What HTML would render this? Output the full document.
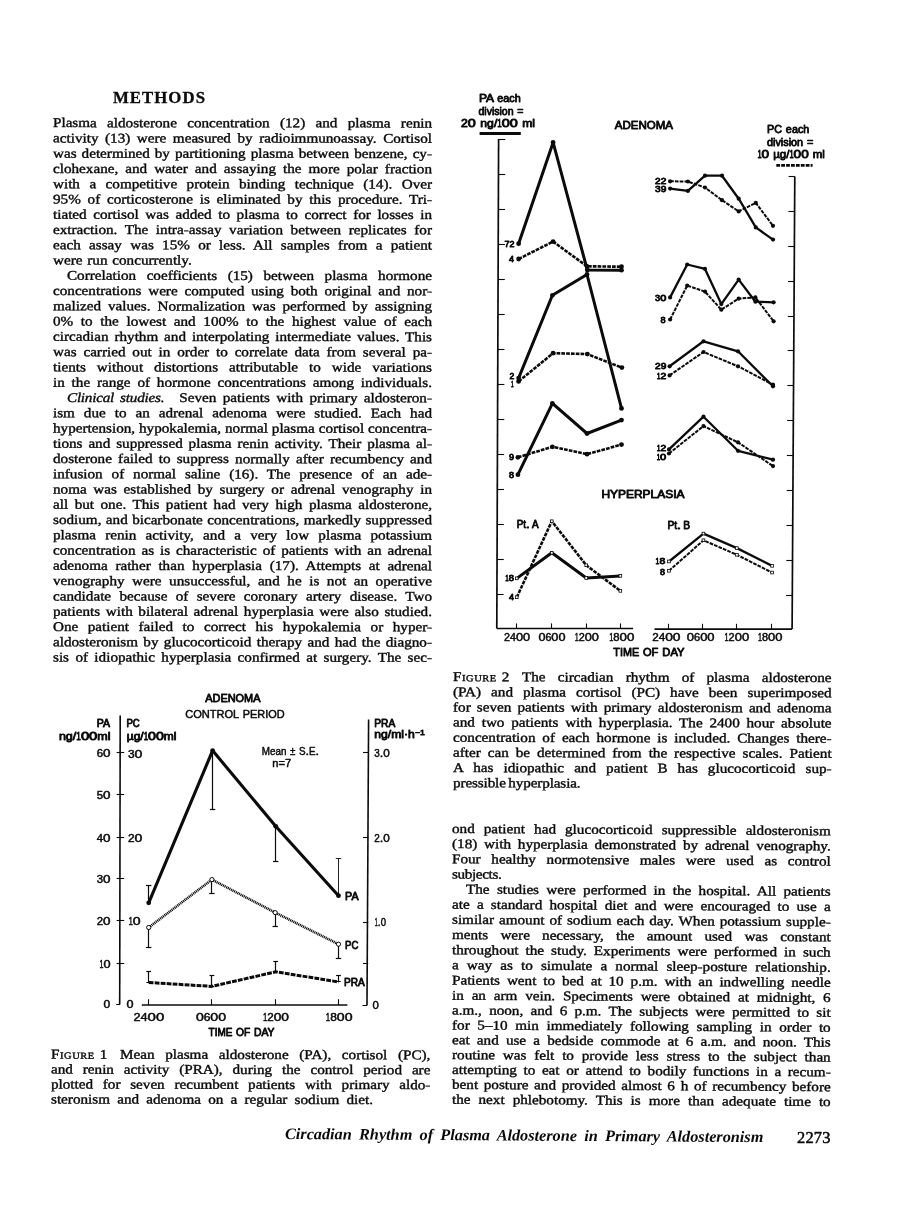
<!DOCTYPE html>
<html lang="en"><head><meta charset="utf-8"><title>Circadian Rhythm of Plasma Aldosterone in Primary Aldosteronism</title>
<style>
html,body{margin:0;padding:0;background:#fff;}
body{width:898px;height:1228px;position:relative;overflow:hidden;color:#0b0b0b;
 font-family:"Liberation Serif", serif;font-size:13.3px;}
.l,.h,.f,.pn{position:absolute;white-space:pre;transform-origin:0 75%;}
.l{line-height:16px;height:16px;-webkit-text-stroke:0.38px #0b0b0b;}
.sc{letter-spacing:0.5px;}
.sm{font-size:0.69em;}
.h{font-weight:bold;font-size:16.8px;line-height:20px;height:20px;-webkit-text-stroke:0.3px #0b0b0b;}
.f{font-weight:bold;font-style:italic;font-size:16px;line-height:18px;height:18px;}
.pn{font-size:16.4px;line-height:18px;height:18px;-webkit-text-stroke:0.5px #0b0b0b;}
svg{position:absolute;left:0;top:0;}
svg text{font-family:"Liberation Sans",sans-serif;fill:#0b0b0b;stroke:#0b0b0b;stroke-linejoin:round;}
</style></head><body>
<div class="l" style="left:53.3px;top:115px;word-spacing:5.685px;transform:translateY(0.10px) rotate(0.05deg) scaleX(1.14);">Plasma aldosterone concentration (12) and plasma renin</div>
<div class="l" style="left:53.3px;top:130px;word-spacing:2.438px;transform:translateY(0.37px) rotate(0.05deg) scaleX(1.14);">activity (13) were measured by radioimmunoassay. Cortisol</div>
<div class="l" style="left:53.3px;top:145px;word-spacing:1.076px;transform:translateY(0.63px) rotate(0.05deg) scaleX(1.14);">was determined by partitioning plasma between benzene, cy-</div>
<div class="l" style="left:53.3px;top:160px;word-spacing:2.836px;transform:translateY(0.90px) rotate(0.05deg) scaleX(1.14);">clohexane, and water and assaying the more polar fraction</div>
<div class="l" style="left:53.3px;top:176px;word-spacing:4.976px;transform:translateY(0.17px) rotate(0.05deg) scaleX(1.14);">with a competitive protein binding technique (14). Over</div>
<div class="l" style="left:53.3px;top:191px;word-spacing:2.643px;transform:translateY(0.44px) rotate(0.05deg) scaleX(1.14);">95% of corticosterone is eliminated by this procedure. Tri-</div>
<div class="l" style="left:53.3px;top:206px;word-spacing:2.449px;transform:translateY(0.70px) rotate(0.05deg) scaleX(1.14);">tiated cortisol was added to plasma to correct for losses in</div>
<div class="l" style="left:53.3px;top:221px;word-spacing:3.331px;transform:translateY(0.97px) rotate(0.05deg) scaleX(1.14);">extraction. The intra-assay variation between replicates for</div>
<div class="l" style="left:53.3px;top:237px;word-spacing:3.963px;transform:translateY(0.24px) rotate(0.05deg) scaleX(1.14);">each assay was 15% or less. All samples from a patient</div>
<div class="l" style="left:53.3px;top:252px;word-spacing:0.896px;transform:translateY(0.50px) rotate(0.05deg) scaleX(1.14);">were run concurrently.</div>
<div class="l" style="left:67.3px;top:267px;word-spacing:5.966px;transform:translateY(0.77px) rotate(0.05deg) scaleX(1.14);">Correlation coefficients (15) between plasma hormone</div>
<div class="l" style="left:53.3px;top:283px;word-spacing:2.639px;transform:translateY(0.04px) rotate(0.05deg) scaleX(1.14);">concentrations were computed using both original and nor-</div>
<div class="l" style="left:53.3px;top:298px;word-spacing:2.790px;transform:translateY(0.30px) rotate(0.05deg) scaleX(1.14);">malized values. Normalization was performed by assigning</div>
<div class="l" style="left:53.3px;top:313px;word-spacing:3.401px;transform:translateY(0.57px) rotate(0.05deg) scaleX(1.14);">0% to the lowest and 100% to the highest value of each</div>
<div class="l" style="left:53.3px;top:328px;word-spacing:1.847px;transform:translateY(0.84px) rotate(0.05deg) scaleX(1.14);">circadian rhythm and interpolating intermediate values. This</div>
<div class="l" style="left:53.3px;top:344px;word-spacing:2.677px;transform:translateY(0.11px) rotate(0.05deg) scaleX(1.14);">was carried out in order to correlate data from several pa-</div>
<div class="l" style="left:53.3px;top:359px;word-spacing:6.290px;transform:translateY(0.37px) rotate(0.05deg) scaleX(1.14);">tients without distortions attributable to wide variations</div>
<div class="l" style="left:53.3px;top:374px;word-spacing:2.654px;transform:translateY(0.64px) rotate(0.05deg) scaleX(1.14);">in the range of hormone concentrations among individuals.</div>
<div class="l" style="left:67.3px;top:389px;word-spacing:2.229px;transform:translateY(0.91px) rotate(0.05deg) scaleX(1.14);"><i style='letter-spacing:-0.2px'>Clinical studies.</i> Seven patients with primary aldosteron-</div>
<div class="l" style="left:53.3px;top:405px;word-spacing:4.530px;transform:translateY(0.17px) rotate(0.05deg) scaleX(1.14);">ism due to an adrenal adenoma were studied. Each had</div>
<div class="l" style="left:53.3px;top:420px;word-spacing:0.101px;transform:translateY(0.44px) rotate(0.05deg) scaleX(1.14);">hypertension, hypokalemia, normal plasma cortisol concentra-</div>
<div class="l" style="left:53.3px;top:435px;word-spacing:1.860px;transform:translateY(0.71px) rotate(0.05deg) scaleX(1.14);">tions and suppressed plasma renin activity. Their plasma al-</div>
<div class="l" style="left:53.3px;top:450px;word-spacing:2.079px;transform:translateY(0.97px) rotate(0.05deg) scaleX(1.14);">dosterone failed to suppress normally after recumbency and</div>
<div class="l" style="left:53.3px;top:466px;word-spacing:4.474px;transform:translateY(0.24px) rotate(0.05deg) scaleX(1.14);">infusion of normal saline (16). The presence of an ade-</div>
<div class="l" style="left:53.3px;top:481px;word-spacing:2.537px;transform:translateY(0.51px) rotate(0.05deg) scaleX(1.14);">noma was established by surgery or adrenal venography in</div>
<div class="l" style="left:53.3px;top:496px;word-spacing:2.377px;transform:translateY(0.77px) rotate(0.05deg) scaleX(1.14);">all but one. This patient had very high plasma aldosterone,</div>
<div class="l" style="left:53.3px;top:512px;word-spacing:0.541px;transform:translateY(0.04px) rotate(0.05deg) scaleX(1.14);">sodium, and bicarbonate concentrations, markedly suppressed</div>
<div class="l" style="left:53.3px;top:527px;word-spacing:4.784px;transform:translateY(0.31px) rotate(0.05deg) scaleX(1.14);">plasma renin activity, and a very low plasma potassium</div>
<div class="l" style="left:53.3px;top:542px;word-spacing:1.868px;transform:translateY(0.58px) rotate(0.05deg) scaleX(1.14);">concentration as is characteristic of patients with an adrenal</div>
<div class="l" style="left:53.3px;top:557px;word-spacing:3.398px;transform:translateY(0.84px) rotate(0.05deg) scaleX(1.14);">adenoma rather than hyperplasia (17). Attempts at adrenal</div>
<div class="l" style="left:53.3px;top:573px;word-spacing:3.293px;transform:translateY(0.11px) rotate(0.05deg) scaleX(1.14);">venography were unsuccessful, and he is not an operative</div>
<div class="l" style="left:53.3px;top:588px;word-spacing:3.992px;transform:translateY(0.38px) rotate(0.05deg) scaleX(1.14);">candidate because of severe coronary artery disease. Two</div>
<div class="l" style="left:53.3px;top:603px;word-spacing:1.603px;transform:translateY(0.64px) rotate(0.05deg) scaleX(1.14);">patients with bilateral adrenal hyperplasia were also studied.</div>
<div class="l" style="left:53.3px;top:618px;word-spacing:5.037px;transform:translateY(0.91px) rotate(0.05deg) scaleX(1.14);">One patient failed to correct his hypokalemia or hyper-</div>
<div class="l" style="left:53.3px;top:634px;word-spacing:1.335px;transform:translateY(0.18px) rotate(0.05deg) scaleX(1.14);">aldosteronism by glucocorticoid therapy and had the diagno-</div>
<div class="l" style="left:53.3px;top:649px;word-spacing:2.262px;transform:translateY(0.45px) rotate(0.05deg) scaleX(1.14);">sis of idiopathic hyperplasia confirmed at surgery. The sec-</div>
<div class="l" style="left:51.2px;top:1046px;word-spacing:6.021px;transform:translateY(0.60px) rotate(0.1deg) scaleX(1.14);"><span class="sc">F<span class="sm">IGURE</span></span> 1  Mean plasma aldosterone (PA), cortisol (PC),</div>
<div class="l" style="left:51.2px;top:1061px;word-spacing:5.367px;transform:translateY(0.55px) rotate(0.1deg) scaleX(1.14);">and renin activity (PRA), during the control period are</div>
<div class="l" style="left:51.2px;top:1076px;word-spacing:5.184px;transform:translateY(0.50px) rotate(0.1deg) scaleX(1.14);">plotted for seven recumbent patients with primary aldo-</div>
<div class="l" style="left:51.2px;top:1091px;word-spacing:3.000px;transform:translateY(0.45px) rotate(0.1deg) scaleX(1.14);">steronism and adenoma on a regular sodium diet.</div>
<div class="l" style="left:453.0px;top:669px;word-spacing:7.418px;transform:translateY(0.10px) rotate(0.15deg) scaleX(1.14);"><span class="sc">F<span class="sm">IGURE</span></span> 2  The circadian rhythm of plasma aldosterone</div>
<div class="l" style="left:453.0px;top:684px;word-spacing:5.466px;transform:translateY(0.25px) rotate(0.15deg) scaleX(1.14);">(PA) and plasma cortisol (PC) have been superimposed</div>
<div class="l" style="left:453.0px;top:699px;word-spacing:2.024px;transform:translateY(0.40px) rotate(0.15deg) scaleX(1.14);">for seven patients with primary aldosteronism and adenoma</div>
<div class="l" style="left:453.0px;top:714px;word-spacing:2.630px;transform:translateY(0.55px) rotate(0.15deg) scaleX(1.14);">and two patients with hyperplasia. The 2400 hour absolute</div>
<div class="l" style="left:453.0px;top:729px;word-spacing:2.714px;transform:translateY(0.70px) rotate(0.15deg) scaleX(1.14);">concentration of each hormone is included. Changes there-</div>
<div class="l" style="left:453.0px;top:744px;word-spacing:2.794px;transform:translateY(0.85px) rotate(0.15deg) scaleX(1.14);">after can be determined from the respective scales. Patient</div>
<div class="l" style="left:453.0px;top:760px;word-spacing:5.507px;transform:rotate(0.15deg) scaleX(1.14);">A has idiopathic and patient B has glucocorticoid sup-</div>
<div class="l" style="left:453.0px;top:775px;word-spacing:-1.000px;letter-spacing:-0.108px;transform:translateY(0.15px) rotate(0.15deg) scaleX(1.14);">pressible hyperplasia.</div>
<div class="l" style="left:452.2px;top:820px;word-spacing:4.620px;transform:translateY(0.90px) rotate(0.36deg) scaleX(1.14);">ond patient had glucocorticoid suppressible aldosteronism</div>
<div class="l" style="left:452.2px;top:836px;word-spacing:2.644px;transform:translateY(0.06px) rotate(0.36deg) scaleX(1.14);">(18) with hyperplasia demonstrated by adrenal venography.</div>
<div class="l" style="left:452.2px;top:851px;word-spacing:6.045px;transform:translateY(0.22px) rotate(0.36deg) scaleX(1.14);">Four healthy normotensive males were used as control</div>
<div class="l" style="left:452.2px;top:866px;letter-spacing:-0.311px;transform:translateY(0.38px) rotate(0.36deg) scaleX(1.14);">subjects.</div>
<div class="l" style="left:466.2px;top:881px;word-spacing:3.108px;transform:translateY(0.54px) rotate(0.36deg) scaleX(1.14);">The studies were performed in the hospital. All patients</div>
<div class="l" style="left:452.2px;top:896px;word-spacing:3.018px;transform:translateY(0.70px) rotate(0.36deg) scaleX(1.14);">ate a standard hospital diet and were encouraged to use a</div>
<div class="l" style="left:452.2px;top:911px;word-spacing:0.993px;transform:translateY(0.86px) rotate(0.36deg) scaleX(1.14);">similar amount of sodium each day. When potassium supple-</div>
<div class="l" style="left:452.2px;top:927px;word-spacing:7.382px;transform:translateY(0.02px) rotate(0.36deg) scaleX(1.14);">ments were necessary, the amount used was constant</div>
<div class="l" style="left:452.2px;top:942px;word-spacing:2.845px;transform:translateY(0.18px) rotate(0.36deg) scaleX(1.14);">throughout the study. Experiments were performed in such</div>
<div class="l" style="left:452.2px;top:957px;word-spacing:3.813px;transform:translateY(0.34px) rotate(0.36deg) scaleX(1.14);">a way as to simulate a normal sleep-posture relationship.</div>
<div class="l" style="left:452.2px;top:972px;word-spacing:2.716px;transform:translateY(0.50px) rotate(0.36deg) scaleX(1.14);">Patients went to bed at 10 p.m. with an indwelling needle</div>
<div class="l" style="left:452.2px;top:987px;word-spacing:3.553px;transform:translateY(0.66px) rotate(0.36deg) scaleX(1.14);">in an arm vein. Speciments were obtained at midnight, 6</div>
<div class="l" style="left:452.2px;top:1002px;word-spacing:3.035px;transform:translateY(0.52px) rotate(0.36deg) scaleX(1.14);">a.m., noon, and 6 p.m. The subjects were permitted to sit</div>
<div class="l" style="left:452.2px;top:1017px;word-spacing:3.393px;transform:translateY(0.38px) rotate(0.36deg) scaleX(1.14);">for 5–10 min immediately following sampling in order to</div>
<div class="l" style="left:452.2px;top:1032px;word-spacing:2.962px;transform:translateY(0.24px) rotate(0.36deg) scaleX(1.14);">eat and use a bedside commode at 6 a.m. and noon. This</div>
<div class="l" style="left:452.2px;top:1047px;word-spacing:3.529px;transform:translateY(0.10px) rotate(0.36deg) scaleX(1.14);">routine was felt to provide less stress to the subject than</div>
<div class="l" style="left:452.2px;top:1061px;word-spacing:2.496px;transform:translateY(0.96px) rotate(0.36deg) scaleX(1.14);">attempting to eat or attend to bodily functions in a recum-</div>
<div class="l" style="left:452.2px;top:1076px;word-spacing:1.667px;transform:translateY(0.82px) rotate(0.36deg) scaleX(1.14);">bent posture and provided almost 6 h of recumbency before</div>
<div class="l" style="left:452.2px;top:1091px;word-spacing:3.716px;transform:translateY(0.68px) rotate(0.36deg) scaleX(1.14);">the next phlebotomy. This is more than adequate time to</div>
<div class="h" style="left:112.9px;top:88px;letter-spacing:1.051px;">METHODS</div>
<div class="f" style="left:285.0px;top:1125px;word-spacing:3.163px;transform:rotate(0.38deg) scaleX(1.015);">Circadian Rhythm of Plasma Aldosterone in Primary Aldosteronism</div>
<div class="pn" style="left:797.0px;top:1129px;letter-spacing:0.206px;transform:translateY(0.30px);">2273</div>
<svg width="898" height="1228" viewBox="0 0 898 1228">
<text y="701.8" font-size="10.4" stroke-width="0.78"><tspan x="205.20" textLength="55.30" lengthAdjust="spacingAndGlyphs">ADENOMA</tspan></text>
<text y="717.9" font-size="10.2" stroke-width="0.45"><tspan x="185.20" textLength="53.66" lengthAdjust="spacingAndGlyphs">CONTROL</tspan> <tspan x="242.76" textLength="41.84" lengthAdjust="spacingAndGlyphs">PERIOD</tspan></text>
<line x1="120.2" y1="715.6" x2="119.7" y2="1004.4" stroke="#0b0b0b" stroke-width="1.6"/>
<line x1="116.6" y1="752.5" x2="124.2" y2="752.5" stroke="#0b0b0b" stroke-width="1.1"/>
<text y="757.3" font-size="10" stroke-width="0.45"><tspan x="96.80" textLength="6.33" lengthAdjust="spacingAndGlyphs">6</tspan><tspan x="103.13" textLength="7.47" lengthAdjust="spacingAndGlyphs">0</tspan></text>
<line x1="116.6" y1="794.5" x2="124.2" y2="794.5" stroke="#0b0b0b" stroke-width="1.1"/>
<text y="798.5" font-size="10" stroke-width="0.45"><tspan x="96.80" textLength="6.33" lengthAdjust="spacingAndGlyphs">5</tspan><tspan x="103.13" textLength="7.47" lengthAdjust="spacingAndGlyphs">0</tspan></text>
<line x1="116.6" y1="837.5" x2="124.2" y2="837.5" stroke="#0b0b0b" stroke-width="1.1"/>
<text y="841.7" font-size="10" stroke-width="0.45"><tspan x="96.80" textLength="6.33" lengthAdjust="spacingAndGlyphs">4</tspan><tspan x="103.13" textLength="7.47" lengthAdjust="spacingAndGlyphs">0</tspan></text>
<line x1="116.6" y1="878.5" x2="124.2" y2="878.5" stroke="#0b0b0b" stroke-width="1.1"/>
<text y="883.3" font-size="10" stroke-width="0.45"><tspan x="96.80" textLength="6.33" lengthAdjust="spacingAndGlyphs">3</tspan><tspan x="103.13" textLength="7.47" lengthAdjust="spacingAndGlyphs">0</tspan></text>
<line x1="116.6" y1="920.5" x2="124.2" y2="920.5" stroke="#0b0b0b" stroke-width="1.1"/>
<text y="925.3" font-size="10" stroke-width="0.45"><tspan x="96.80" textLength="6.33" lengthAdjust="spacingAndGlyphs">2</tspan><tspan x="103.13" textLength="7.47" lengthAdjust="spacingAndGlyphs">0</tspan></text>
<line x1="116.6" y1="963.5" x2="124.2" y2="963.5" stroke="#0b0b0b" stroke-width="1.1"/>
<text y="967.7" font-size="10" stroke-width="0.45"><tspan x="99.60" textLength="3.95" lengthAdjust="spacingAndGlyphs">1</tspan><tspan x="103.55" textLength="7.05" lengthAdjust="spacingAndGlyphs">0</tspan></text>
<line x1="116.2" y1="1004.5" x2="120.0" y2="1004.5" stroke="#0b0b0b" stroke-width="1.1"/>
<text y="757.6" font-size="10" stroke-width="0.45"><tspan x="128.00" textLength="6.61" lengthAdjust="spacingAndGlyphs">3</tspan><tspan x="134.61" textLength="7.79" lengthAdjust="spacingAndGlyphs">0</tspan></text>
<text y="842.0" font-size="10" stroke-width="0.45"><tspan x="128.00" textLength="6.61" lengthAdjust="spacingAndGlyphs">2</tspan><tspan x="134.61" textLength="7.79" lengthAdjust="spacingAndGlyphs">0</tspan></text>
<text y="925.4" font-size="10" stroke-width="0.45"><tspan x="128.40" textLength="4.38" lengthAdjust="spacingAndGlyphs">1</tspan><tspan x="132.78" textLength="7.82" lengthAdjust="spacingAndGlyphs">0</tspan></text>
<text y="1008.4" font-size="10" stroke-width="0.45"><tspan x="103.50" textLength="6.70" lengthAdjust="spacingAndGlyphs">0</tspan></text>
<text y="1008.4" font-size="10" stroke-width="0.45"><tspan x="126.40" textLength="7.00" lengthAdjust="spacingAndGlyphs">0</tspan></text>
<text y="727.2" font-size="10" stroke-width="0.78"><tspan x="96.80" textLength="13.30" lengthAdjust="spacingAndGlyphs">PA</tspan></text>
<text y="739.7" font-size="10" stroke-width="0.78"><tspan x="58.90" textLength="17.42" lengthAdjust="spacingAndGlyphs">ng/</tspan><tspan x="76.32" textLength="4.60" lengthAdjust="spacingAndGlyphs">1</tspan><tspan x="80.92" textLength="16.45" lengthAdjust="spacingAndGlyphs">00</tspan><tspan x="97.37" textLength="13.23" lengthAdjust="spacingAndGlyphs">ml</tspan></text>
<text y="727.2" font-size="10" stroke-width="0.78"><tspan x="126.40" textLength="13.40" lengthAdjust="spacingAndGlyphs">PC</tspan></text>
<text y="739.7" font-size="10" stroke-width="0.78"><tspan x="126.80" textLength="16.91" lengthAdjust="spacingAndGlyphs">µg/</tspan><tspan x="143.71" textLength="4.40" lengthAdjust="spacingAndGlyphs">1</tspan><tspan x="148.11" textLength="15.74" lengthAdjust="spacingAndGlyphs">00</tspan><tspan x="163.85" textLength="12.65" lengthAdjust="spacingAndGlyphs">ml</tspan></text>
<line x1="368.6" y1="719.6" x2="367.0" y2="1005.3" stroke="#0b0b0b" stroke-width="1.6"/>
<line x1="363.0" y1="752.5" x2="368.2" y2="752.5" stroke="#0b0b0b" stroke-width="1.1"/>
<line x1="363.0" y1="837.5" x2="368.2" y2="837.5" stroke="#0b0b0b" stroke-width="1.1"/>
<line x1="363.0" y1="922.5" x2="368.2" y2="922.5" stroke="#0b0b0b" stroke-width="1.1"/>
<line x1="363.0" y1="963.5" x2="368.2" y2="963.5" stroke="#0b0b0b" stroke-width="1.1"/>
<line x1="362.4" y1="1005.5" x2="367.2" y2="1005.5" stroke="#0b0b0b" stroke-width="1.1"/>
<text y="727.2" font-size="10" stroke-width="0.78"><tspan x="374.30" textLength="21.00" lengthAdjust="spacingAndGlyphs">PRA</tspan></text>
<text y="738.2" font-size="10" stroke-width="0.78"><tspan x="374.30" textLength="40.60" lengthAdjust="spacingAndGlyphs">ng/ml·h</tspan><tspan x="414.90" dy="-3.2" font-size="7.2" textLength="10.00" lengthAdjust="spacingAndGlyphs">−1</tspan></text>
<text y="757.0" font-size="10" stroke-width="0.45"><tspan x="374.30" textLength="5.51" lengthAdjust="spacingAndGlyphs">3</tspan><tspan x="379.81" textLength="3.58" lengthAdjust="spacingAndGlyphs">.</tspan><tspan x="383.39" textLength="6.51" lengthAdjust="spacingAndGlyphs">0</tspan></text>
<text y="841.9" font-size="10" stroke-width="0.45"><tspan x="374.30" textLength="5.51" lengthAdjust="spacingAndGlyphs">2</tspan><tspan x="379.81" textLength="3.58" lengthAdjust="spacingAndGlyphs">.</tspan><tspan x="383.39" textLength="6.51" lengthAdjust="spacingAndGlyphs">0</tspan></text>
<text y="925.7" font-size="10" stroke-width="0.45"><tspan x="374.80" textLength="2.97" lengthAdjust="spacingAndGlyphs">1</tspan><tspan x="377.77" textLength="2.92" lengthAdjust="spacingAndGlyphs">.</tspan><tspan x="380.69" textLength="5.31" lengthAdjust="spacingAndGlyphs">0</tspan></text>
<text y="1008.6" font-size="10" stroke-width="0.45"><tspan x="372.50" textLength="6.30" lengthAdjust="spacingAndGlyphs">0</tspan></text>
<text y="755.3" font-size="10" stroke-width="0.45"><tspan x="261.80" textLength="24.59" lengthAdjust="spacingAndGlyphs">Mean</tspan> <tspan x="289.94" textLength="5.40" lengthAdjust="spacingAndGlyphs">±</tspan> <tspan x="298.89" textLength="6.56" lengthAdjust="spacingAndGlyphs">S</tspan><tspan x="305.44" textLength="3.55" lengthAdjust="spacingAndGlyphs">.</tspan><tspan x="308.99" textLength="6.56" lengthAdjust="spacingAndGlyphs">E</tspan><tspan x="315.55" textLength="3.55" lengthAdjust="spacingAndGlyphs">.</tspan></text>
<text y="766.9" font-size="10" stroke-width="0.45"><tspan x="272.30" textLength="18.90" lengthAdjust="spacingAndGlyphs">n=7</tspan></text>
<line x1="141.8" y1="1005.0" x2="347.4" y2="1005.0" stroke="#0b0b0b" stroke-width="1.3"/>
<line x1="148.5" y1="999.2" x2="148.5" y2="1005.0" stroke="#0b0b0b" stroke-width="1.1"/>
<line x1="211.5" y1="999.2" x2="211.5" y2="1005.0" stroke="#0b0b0b" stroke-width="1.1"/>
<line x1="275.5" y1="999.2" x2="275.5" y2="1005.0" stroke="#0b0b0b" stroke-width="1.1"/>
<line x1="338.5" y1="999.2" x2="338.5" y2="1005.0" stroke="#0b0b0b" stroke-width="1.1"/>
<text y="1020.7" font-size="10" stroke-width="0.45"><tspan x="133.50" textLength="14.13" lengthAdjust="spacingAndGlyphs">24</tspan><tspan x="147.63" textLength="16.67" lengthAdjust="spacingAndGlyphs">00</tspan></text>
<text y="1020.7" font-size="10" stroke-width="0.45"><tspan x="195.90" textLength="7.82" lengthAdjust="spacingAndGlyphs">0</tspan><tspan x="203.72" textLength="6.63" lengthAdjust="spacingAndGlyphs">6</tspan><tspan x="210.35" textLength="15.65" lengthAdjust="spacingAndGlyphs">00</tspan></text>
<text y="1021.0" font-size="10" stroke-width="0.45"><tspan x="263.00" textLength="4.27" lengthAdjust="spacingAndGlyphs">1</tspan><tspan x="267.27" textLength="6.47" lengthAdjust="spacingAndGlyphs">2</tspan><tspan x="273.74" textLength="15.26" lengthAdjust="spacingAndGlyphs">00</tspan></text>
<text y="1021.2" font-size="10" stroke-width="0.45"><tspan x="325.80" textLength="4.38" lengthAdjust="spacingAndGlyphs">1</tspan><tspan x="330.18" textLength="6.64" lengthAdjust="spacingAndGlyphs">8</tspan><tspan x="336.83" textLength="15.67" lengthAdjust="spacingAndGlyphs">00</tspan></text>
<text y="1035.5" font-size="10" stroke-width="0.78"><tspan x="208.60" textLength="23.87" lengthAdjust="spacingAndGlyphs">TIME</tspan> <tspan x="236.08" textLength="14.27" lengthAdjust="spacingAndGlyphs">OF</tspan> <tspan x="253.95" textLength="20.55" lengthAdjust="spacingAndGlyphs">DAY</tspan></text>
<line x1="148.5" y1="902.8" x2="148.5" y2="885.7" stroke="#0b0b0b" stroke-width="1.2"/>
<line x1="146.0" y1="885.5" x2="151.4" y2="885.5" stroke="#0b0b0b" stroke-width="1.2"/>
<line x1="212.5" y1="750.6" x2="212.5" y2="809.6" stroke="#0b0b0b" stroke-width="1.2"/>
<line x1="209.9" y1="809.5" x2="215.3" y2="809.5" stroke="#0b0b0b" stroke-width="1.2"/>
<line x1="275.5" y1="826.3" x2="275.5" y2="861.2" stroke="#0b0b0b" stroke-width="1.2"/>
<line x1="273.0" y1="861.5" x2="278.4" y2="861.5" stroke="#0b0b0b" stroke-width="1.2"/>
<line x1="338.5" y1="895.7" x2="338.5" y2="858.5" stroke="#0b0b0b" stroke-width="0.9"/>
<line x1="335.8" y1="858.5" x2="341.2" y2="858.5" stroke="#0b0b0b" stroke-width="0.9"/>
<line x1="148.5" y1="927.5" x2="148.5" y2="947.1" stroke="#0b0b0b" stroke-width="1.2"/>
<line x1="146.0" y1="947.5" x2="151.4" y2="947.5" stroke="#0b0b0b" stroke-width="1.2"/>
<line x1="211.5" y1="879.6" x2="211.5" y2="893.5" stroke="#0b0b0b" stroke-width="1.2"/>
<line x1="209.2" y1="893.5" x2="214.6" y2="893.5" stroke="#0b0b0b" stroke-width="1.2"/>
<line x1="275.5" y1="912.6" x2="275.5" y2="926.9" stroke="#0b0b0b" stroke-width="1.2"/>
<line x1="272.5" y1="926.5" x2="277.9" y2="926.5" stroke="#0b0b0b" stroke-width="1.2"/>
<line x1="338.5" y1="944.2" x2="338.5" y2="958.0" stroke="#0b0b0b" stroke-width="1.2"/>
<line x1="335.8" y1="958.5" x2="341.2" y2="958.5" stroke="#0b0b0b" stroke-width="1.2"/>
<line x1="148.5" y1="982.5" x2="148.5" y2="971.8" stroke="#0b0b0b" stroke-width="1.2"/>
<line x1="146.3" y1="971.5" x2="151.1" y2="971.5" stroke="#0b0b0b" stroke-width="1.2"/>
<line x1="146.5" y1="982.5" x2="150.9" y2="982.5" stroke="#0b0b0b" stroke-width="1.0"/>
<line x1="211.5" y1="986.4" x2="211.5" y2="975.0" stroke="#0b0b0b" stroke-width="1.2"/>
<line x1="209.5" y1="975.5" x2="214.3" y2="975.5" stroke="#0b0b0b" stroke-width="1.2"/>
<line x1="209.7" y1="986.5" x2="214.1" y2="986.5" stroke="#0b0b0b" stroke-width="1.0"/>
<line x1="275.5" y1="971.8" x2="275.5" y2="961.4" stroke="#0b0b0b" stroke-width="1.2"/>
<line x1="273.3" y1="961.5" x2="278.1" y2="961.5" stroke="#0b0b0b" stroke-width="1.2"/>
<line x1="273.5" y1="971.5" x2="277.9" y2="971.5" stroke="#0b0b0b" stroke-width="1.0"/>
<line x1="338.5" y1="981.9" x2="338.5" y2="975.2" stroke="#0b0b0b" stroke-width="1.2"/>
<line x1="336.1" y1="975.5" x2="340.9" y2="975.5" stroke="#0b0b0b" stroke-width="1.2"/>
<line x1="336.3" y1="981.5" x2="340.7" y2="981.5" stroke="#0b0b0b" stroke-width="1.0"/>
<polyline points="148.7,902.8 212.6,750.6 275.7,826.3 338.5,895.7" fill="none" stroke="#0b0b0b" stroke-width="3.1" stroke-linejoin="round"/>
<circle cx="148.7" cy="902.8" r="2.4" fill="#0b0b0b"/>
<circle cx="212.6" cy="750.6" r="2.4" fill="#0b0b0b"/>
<circle cx="275.7" cy="826.3" r="2.4" fill="#0b0b0b"/>
<circle cx="338.5" cy="895.7" r="2.4" fill="#0b0b0b"/>
<polyline points="148.7,927.5 211.9,879.6 275.2,912.6 338.5,944.2" fill="none" stroke="#0b0b0b" stroke-width="2.6" stroke-linejoin="round" stroke-dasharray="1.1 0.7"/>
<circle cx="148.7" cy="927.5" r="2.1" fill="#fff" stroke="#0b0b0b" stroke-width="1.0"/>
<circle cx="211.9" cy="879.6" r="2.1" fill="#fff" stroke="#0b0b0b" stroke-width="1.0"/>
<circle cx="275.2" cy="912.6" r="2.1" fill="#fff" stroke="#0b0b0b" stroke-width="1.0"/>
<circle cx="338.5" cy="944.2" r="2.1" fill="#fff" stroke="#0b0b0b" stroke-width="1.0"/>
<polyline points="148.7,982.5 211.9,986.4 275.7,971.8 338.5,981.9" fill="none" stroke="#0b0b0b" stroke-width="3.0" stroke-linejoin="round" stroke-dasharray="4.8 1.2"/>
<text y="900.1" font-size="10" stroke-width="0.78"><tspan x="345.10" textLength="13.40" lengthAdjust="spacingAndGlyphs">PA</tspan></text>
<text y="949.1" font-size="10" stroke-width="0.78"><tspan x="345.10" textLength="13.40" lengthAdjust="spacingAndGlyphs">PC</tspan></text>
<text y="985.9" font-size="10" stroke-width="0.78"><tspan x="344.00" textLength="20.70" lengthAdjust="spacingAndGlyphs">PRA</tspan></text>
<text y="102.3" font-size="10" stroke-width="0.78"><tspan x="479.00" textLength="14.43" lengthAdjust="spacingAndGlyphs">PA</tspan> <tspan x="497.34" textLength="23.46" lengthAdjust="spacingAndGlyphs">each</tspan></text>
<text y="115.0" font-size="10" stroke-width="0.78"><tspan x="478.50" textLength="35.06" lengthAdjust="spacingAndGlyphs">division</tspan> <tspan x="517.36" textLength="6.14" lengthAdjust="spacingAndGlyphs">=</tspan></text>
<text y="127.2" font-size="10" stroke-width="0.78"><tspan x="461.10" textLength="6.79" lengthAdjust="spacingAndGlyphs">2</tspan><tspan x="467.89" textLength="8.01" lengthAdjust="spacingAndGlyphs">0</tspan> <tspan x="480.32" textLength="16.98" lengthAdjust="spacingAndGlyphs">ng/</tspan><tspan x="497.29" textLength="4.48" lengthAdjust="spacingAndGlyphs">1</tspan><tspan x="501.78" textLength="16.03" lengthAdjust="spacingAndGlyphs">00</tspan> <tspan x="522.21" textLength="12.89" lengthAdjust="spacingAndGlyphs">ml</tspan></text>
<line x1="479.6" y1="133.5" x2="520.8" y2="133.5" stroke="#0b0b0b" stroke-width="2.8"/>
<text y="129.0" font-size="10.4" stroke-width="0.78"><tspan x="614.80" textLength="58.20" lengthAdjust="spacingAndGlyphs">ADENOMA</tspan></text>
<text y="133.4" font-size="10" stroke-width="0.78"><tspan x="767.00" textLength="14.99" lengthAdjust="spacingAndGlyphs">PC</tspan> <tspan x="785.89" textLength="23.41" lengthAdjust="spacingAndGlyphs">each</tspan></text>
<text y="145.7" font-size="10" stroke-width="0.78"><tspan x="767.00" textLength="36.08" lengthAdjust="spacingAndGlyphs">division</tspan> <tspan x="806.98" textLength="6.32" lengthAdjust="spacingAndGlyphs">=</tspan></text>
<text y="158.4" font-size="10" stroke-width="0.78"><tspan x="757.40" textLength="4.21" lengthAdjust="spacingAndGlyphs">1</tspan><tspan x="761.61" textLength="7.52" lengthAdjust="spacingAndGlyphs">0</tspan> <tspan x="773.26" textLength="16.16" lengthAdjust="spacingAndGlyphs">µg/</tspan><tspan x="789.42" textLength="4.21" lengthAdjust="spacingAndGlyphs">1</tspan><tspan x="793.63" textLength="15.04" lengthAdjust="spacingAndGlyphs">00</tspan> <tspan x="812.81" textLength="12.09" lengthAdjust="spacingAndGlyphs">ml</tspan></text>
<line x1="776.3" y1="165.3" x2="812.6" y2="165.3" stroke="#0b0b0b" stroke-width="2.8" stroke-dasharray="3.8 1.1"/>
<line x1="498.6" y1="139.0" x2="496.8" y2="628.5" stroke="#0b0b0b" stroke-width="1.7"/>
<line x1="498.6" y1="139.5" x2="505.3" y2="139.5" stroke="#0b0b0b" stroke-width="1.1"/>
<line x1="498.5" y1="174.5" x2="505.2" y2="174.5" stroke="#0b0b0b" stroke-width="1.1"/>
<line x1="498.3" y1="209.5" x2="505.0" y2="209.5" stroke="#0b0b0b" stroke-width="1.1"/>
<line x1="498.2" y1="244.5" x2="504.9" y2="244.5" stroke="#0b0b0b" stroke-width="1.1"/>
<line x1="498.1" y1="279.5" x2="504.8" y2="279.5" stroke="#0b0b0b" stroke-width="1.1"/>
<line x1="498.0" y1="314.5" x2="504.7" y2="314.5" stroke="#0b0b0b" stroke-width="1.1"/>
<line x1="497.8" y1="349.5" x2="504.5" y2="349.5" stroke="#0b0b0b" stroke-width="1.1"/>
<line x1="497.7" y1="384.5" x2="504.4" y2="384.5" stroke="#0b0b0b" stroke-width="1.1"/>
<line x1="497.6" y1="419.5" x2="504.3" y2="419.5" stroke="#0b0b0b" stroke-width="1.1"/>
<line x1="497.4" y1="454.5" x2="504.1" y2="454.5" stroke="#0b0b0b" stroke-width="1.1"/>
<line x1="497.3" y1="489.5" x2="504.0" y2="489.5" stroke="#0b0b0b" stroke-width="1.1"/>
<line x1="497.2" y1="524.5" x2="503.9" y2="524.5" stroke="#0b0b0b" stroke-width="1.1"/>
<line x1="497.1" y1="559.5" x2="503.8" y2="559.5" stroke="#0b0b0b" stroke-width="1.1"/>
<line x1="496.9" y1="594.5" x2="503.6" y2="594.5" stroke="#0b0b0b" stroke-width="1.1"/>
<line x1="496.8" y1="628.5" x2="633.1" y2="628.5" stroke="#0b0b0b" stroke-width="1.6"/>
<line x1="516.5" y1="623.4" x2="516.5" y2="628.5" stroke="#0b0b0b" stroke-width="1.1"/>
<line x1="551.5" y1="623.4" x2="551.5" y2="628.5" stroke="#0b0b0b" stroke-width="1.1"/>
<line x1="586.5" y1="623.4" x2="586.5" y2="628.5" stroke="#0b0b0b" stroke-width="1.1"/>
<line x1="620.5" y1="623.4" x2="620.5" y2="628.5" stroke="#0b0b0b" stroke-width="1.1"/>
<line x1="794.8" y1="176.4" x2="792.1" y2="629.1" stroke="#0b0b0b" stroke-width="1.7"/>
<line x1="788.6" y1="176.5" x2="794.8" y2="176.5" stroke="#0b0b0b" stroke-width="1.1"/>
<line x1="788.4" y1="211.5" x2="794.6" y2="211.5" stroke="#0b0b0b" stroke-width="1.1"/>
<line x1="788.2" y1="246.5" x2="794.4" y2="246.5" stroke="#0b0b0b" stroke-width="1.1"/>
<line x1="788.0" y1="281.5" x2="794.2" y2="281.5" stroke="#0b0b0b" stroke-width="1.1"/>
<line x1="787.8" y1="316.5" x2="794.0" y2="316.5" stroke="#0b0b0b" stroke-width="1.1"/>
<line x1="787.6" y1="350.5" x2="793.8" y2="350.5" stroke="#0b0b0b" stroke-width="1.1"/>
<line x1="787.4" y1="385.5" x2="793.6" y2="385.5" stroke="#0b0b0b" stroke-width="1.1"/>
<line x1="787.1" y1="420.5" x2="793.3" y2="420.5" stroke="#0b0b0b" stroke-width="1.1"/>
<line x1="786.9" y1="455.5" x2="793.1" y2="455.5" stroke="#0b0b0b" stroke-width="1.1"/>
<line x1="786.7" y1="490.5" x2="792.9" y2="490.5" stroke="#0b0b0b" stroke-width="1.1"/>
<line x1="786.5" y1="525.5" x2="792.7" y2="525.5" stroke="#0b0b0b" stroke-width="1.1"/>
<line x1="786.3" y1="560.5" x2="792.5" y2="560.5" stroke="#0b0b0b" stroke-width="1.1"/>
<line x1="786.1" y1="595.5" x2="792.3" y2="595.5" stroke="#0b0b0b" stroke-width="1.1"/>
<line x1="654.5" y1="629.1" x2="792.1" y2="629.1" stroke="#0b0b0b" stroke-width="1.6"/>
<line x1="668.5" y1="623.8" x2="668.5" y2="629.1" stroke="#0b0b0b" stroke-width="1.1"/>
<line x1="702.5" y1="623.8" x2="702.5" y2="629.1" stroke="#0b0b0b" stroke-width="1.1"/>
<line x1="736.5" y1="623.8" x2="736.5" y2="629.1" stroke="#0b0b0b" stroke-width="1.1"/>
<line x1="771.5" y1="623.8" x2="771.5" y2="629.1" stroke="#0b0b0b" stroke-width="1.1"/>
<text y="641.0" font-size="10" stroke-width="0.45"><tspan x="504.10" textLength="11.97" lengthAdjust="spacingAndGlyphs">24</tspan><tspan x="516.07" textLength="14.13" lengthAdjust="spacingAndGlyphs">00</tspan></text>
<text y="641.0" font-size="10" stroke-width="0.45"><tspan x="538.40" textLength="7.02" lengthAdjust="spacingAndGlyphs">0</tspan><tspan x="545.42" textLength="5.95" lengthAdjust="spacingAndGlyphs">6</tspan><tspan x="551.36" textLength="14.04" lengthAdjust="spacingAndGlyphs">00</tspan></text>
<text y="641.0" font-size="10" stroke-width="0.45"><tspan x="574.70" textLength="3.96" lengthAdjust="spacingAndGlyphs">1</tspan><tspan x="578.66" textLength="6.00" lengthAdjust="spacingAndGlyphs">2</tspan><tspan x="584.65" textLength="14.15" lengthAdjust="spacingAndGlyphs">00</tspan></text>
<text y="641.0" font-size="10" stroke-width="0.45"><tspan x="609.20" textLength="4.14" lengthAdjust="spacingAndGlyphs">1</tspan><tspan x="613.34" textLength="6.27" lengthAdjust="spacingAndGlyphs">8</tspan><tspan x="619.61" textLength="14.79" lengthAdjust="spacingAndGlyphs">00</tspan></text>
<text y="641.4" font-size="10" stroke-width="0.45"><tspan x="652.20" textLength="12.98" lengthAdjust="spacingAndGlyphs">24</tspan><tspan x="665.18" textLength="15.32" lengthAdjust="spacingAndGlyphs">00</tspan></text>
<text y="641.4" font-size="10" stroke-width="0.45"><tspan x="686.80" textLength="7.23" lengthAdjust="spacingAndGlyphs">0</tspan><tspan x="694.03" textLength="6.12" lengthAdjust="spacingAndGlyphs">6</tspan><tspan x="700.15" textLength="14.45" lengthAdjust="spacingAndGlyphs">00</tspan></text>
<text y="641.4" font-size="10" stroke-width="0.45"><tspan x="724.60" textLength="4.02" lengthAdjust="spacingAndGlyphs">1</tspan><tspan x="728.62" textLength="6.09" lengthAdjust="spacingAndGlyphs">2</tspan><tspan x="734.72" textLength="14.38" lengthAdjust="spacingAndGlyphs">00</tspan></text>
<text y="641.4" font-size="10" stroke-width="0.45"><tspan x="758.00" textLength="4.02" lengthAdjust="spacingAndGlyphs">1</tspan><tspan x="762.02" textLength="6.09" lengthAdjust="spacingAndGlyphs">8</tspan><tspan x="768.12" textLength="14.38" lengthAdjust="spacingAndGlyphs">00</tspan></text>
<text y="655.9" font-size="10" stroke-width="0.78"><tspan x="613.30" textLength="25.79" lengthAdjust="spacingAndGlyphs">TIME</tspan> <tspan x="642.99" textLength="15.41" lengthAdjust="spacingAndGlyphs">OF</tspan> <tspan x="662.30" textLength="22.20" lengthAdjust="spacingAndGlyphs">DAY</tspan></text>
<text y="497.7" font-size="10.2" stroke-width="0.78"><tspan x="601.40" textLength="83.10" lengthAdjust="spacingAndGlyphs">HYPERPLASIA</tspan></text>
<text y="527.7" font-size="10" stroke-width="0.78"><tspan x="516.80" textLength="9.32" lengthAdjust="spacingAndGlyphs">Pt</tspan><tspan x="526.12" textLength="3.70" lengthAdjust="spacingAndGlyphs">.</tspan> <tspan x="532.02" textLength="6.58" lengthAdjust="spacingAndGlyphs">A</tspan></text>
<text y="528.5" font-size="10" stroke-width="0.78"><tspan x="667.40" textLength="9.71" lengthAdjust="spacingAndGlyphs">Pt</tspan><tspan x="677.11" textLength="3.85" lengthAdjust="spacingAndGlyphs">.</tspan> <tspan x="683.25" textLength="6.85" lengthAdjust="spacingAndGlyphs">B</tspan></text>
<polyline points="518.6,243.7 553.1,142.4 587.3,270.0 621.5,270.2" fill="none" stroke="#0b0b0b" stroke-width="3.0" stroke-linejoin="round"/>
<circle cx="518.6" cy="243.7" r="2.4" fill="#0b0b0b"/>
<circle cx="553.1" cy="142.4" r="2.4" fill="#0b0b0b"/>
<circle cx="587.3" cy="270.0" r="2.4" fill="#0b0b0b"/>
<circle cx="621.5" cy="270.2" r="2.4" fill="#0b0b0b"/>
<polyline points="518.6,259.0 553.1,241.6 587.0,266.3 621.5,266.7" fill="none" stroke="#0b0b0b" stroke-width="2.6" stroke-linejoin="round" stroke-dasharray="3.7 1.1"/>
<circle cx="518.6" cy="259.0" r="2.4" fill="#0b0b0b"/>
<circle cx="553.1" cy="241.6" r="2.4" fill="#0b0b0b"/>
<circle cx="587.0" cy="266.3" r="2.4" fill="#0b0b0b"/>
<circle cx="621.5" cy="266.7" r="2.4" fill="#0b0b0b"/>
<polyline points="518.6,378.1 552.4,295.3 587.0,274.5 621.5,408.4" fill="none" stroke="#0b0b0b" stroke-width="3.0" stroke-linejoin="round"/>
<circle cx="518.6" cy="378.1" r="2.4" fill="#0b0b0b"/>
<circle cx="552.4" cy="295.3" r="2.4" fill="#0b0b0b"/>
<circle cx="587.0" cy="274.5" r="2.4" fill="#0b0b0b"/>
<circle cx="621.5" cy="408.4" r="2.4" fill="#0b0b0b"/>
<polyline points="518.6,381.4 553.1,353.2 587.4,354.1 621.9,367.6" fill="none" stroke="#0b0b0b" stroke-width="2.6" stroke-linejoin="round" stroke-dasharray="3.7 1.1"/>
<circle cx="518.6" cy="381.4" r="2.4" fill="#0b0b0b"/>
<circle cx="553.1" cy="353.2" r="2.4" fill="#0b0b0b"/>
<circle cx="587.4" cy="354.1" r="2.4" fill="#0b0b0b"/>
<circle cx="621.9" cy="367.6" r="2.4" fill="#0b0b0b"/>
<polyline points="517.9,474.7 552.4,403.4 587.0,433.5 621.5,420.1" fill="none" stroke="#0b0b0b" stroke-width="3.0" stroke-linejoin="round"/>
<circle cx="517.9" cy="474.7" r="2.4" fill="#0b0b0b"/>
<circle cx="552.4" cy="403.4" r="2.4" fill="#0b0b0b"/>
<circle cx="587.0" cy="433.5" r="2.4" fill="#0b0b0b"/>
<circle cx="621.5" cy="420.1" r="2.4" fill="#0b0b0b"/>
<polyline points="517.9,457.3 552.4,446.8 587.0,454.2 621.5,444.6" fill="none" stroke="#0b0b0b" stroke-width="2.6" stroke-linejoin="round" stroke-dasharray="3.7 1.1"/>
<circle cx="517.9" cy="457.3" r="2.4" fill="#0b0b0b"/>
<circle cx="552.4" cy="446.8" r="2.4" fill="#0b0b0b"/>
<circle cx="587.0" cy="454.2" r="2.4" fill="#0b0b0b"/>
<circle cx="621.5" cy="444.6" r="2.4" fill="#0b0b0b"/>
<polyline points="516.8,578.4 551.8,552.8 586.3,578.0 620.4,575.9" fill="none" stroke="#0b0b0b" stroke-width="3.0" stroke-linejoin="round"/>
<rect x="515.4" y="577.0" width="2.7" height="2.7" fill="#fff" stroke="#0b0b0b" stroke-width="0.8"/>
<rect x="550.4" y="551.4" width="2.7" height="2.7" fill="#fff" stroke="#0b0b0b" stroke-width="0.8"/>
<rect x="584.9" y="576.6" width="2.7" height="2.7" fill="#fff" stroke="#0b0b0b" stroke-width="0.8"/>
<rect x="619.0" y="574.5" width="2.7" height="2.7" fill="#fff" stroke="#0b0b0b" stroke-width="0.8"/>
<polyline points="516.8,597.3 551.8,521.2 586.3,565.3 620.4,590.9" fill="none" stroke="#0b0b0b" stroke-width="2.6" stroke-linejoin="round" stroke-dasharray="3.7 1.1"/>
<rect x="515.4" y="595.9" width="2.7" height="2.7" fill="#fff" stroke="#0b0b0b" stroke-width="0.8"/>
<rect x="550.4" y="519.9" width="2.7" height="2.7" fill="#fff" stroke="#0b0b0b" stroke-width="0.8"/>
<rect x="584.9" y="563.9" width="2.7" height="2.7" fill="#fff" stroke="#0b0b0b" stroke-width="0.8"/>
<rect x="619.0" y="589.5" width="2.7" height="2.7" fill="#fff" stroke="#0b0b0b" stroke-width="0.8"/>
<polyline points="670.1,188.6 687.9,190.9 705.0,175.7 722.0,175.7 738.7,198.7 755.8,227.4 773.0,239.6" fill="none" stroke="#0b0b0b" stroke-width="2.3" stroke-linejoin="round"/>
<circle cx="670.1" cy="188.6" r="2.1" fill="#0b0b0b"/>
<circle cx="687.9" cy="190.9" r="2.1" fill="#0b0b0b"/>
<circle cx="705.0" cy="175.7" r="2.1" fill="#0b0b0b"/>
<circle cx="722.0" cy="175.7" r="2.1" fill="#0b0b0b"/>
<circle cx="738.7" cy="198.7" r="2.1" fill="#0b0b0b"/>
<circle cx="755.8" cy="227.4" r="2.1" fill="#0b0b0b"/>
<circle cx="773.0" cy="239.6" r="2.1" fill="#0b0b0b"/>
<polyline points="670.1,181.3 687.9,181.5 705.0,187.5 722.0,200.2 738.7,211.4 755.8,202.9 773.0,225.8" fill="none" stroke="#0b0b0b" stroke-width="2.0" stroke-linejoin="round" stroke-dasharray="3.7 1.1"/>
<circle cx="670.1" cy="181.3" r="2.1" fill="#0b0b0b"/>
<circle cx="687.9" cy="181.5" r="2.1" fill="#0b0b0b"/>
<circle cx="705.0" cy="187.5" r="2.1" fill="#0b0b0b"/>
<circle cx="722.0" cy="200.2" r="2.1" fill="#0b0b0b"/>
<circle cx="738.7" cy="211.4" r="2.1" fill="#0b0b0b"/>
<circle cx="755.8" cy="202.9" r="2.1" fill="#0b0b0b"/>
<circle cx="773.0" cy="225.8" r="2.1" fill="#0b0b0b"/>
<polyline points="670.1,297.4 687.2,264.5 705.0,268.9 721.3,304.1 738.7,279.6 755.4,301.7 773.6,302.3" fill="none" stroke="#0b0b0b" stroke-width="2.3" stroke-linejoin="round"/>
<circle cx="670.1" cy="297.4" r="2.1" fill="#0b0b0b"/>
<circle cx="687.2" cy="264.5" r="2.1" fill="#0b0b0b"/>
<circle cx="705.0" cy="268.9" r="2.1" fill="#0b0b0b"/>
<circle cx="721.3" cy="304.1" r="2.1" fill="#0b0b0b"/>
<circle cx="738.7" cy="279.6" r="2.1" fill="#0b0b0b"/>
<circle cx="755.4" cy="301.7" r="2.1" fill="#0b0b0b"/>
<circle cx="773.6" cy="302.3" r="2.1" fill="#0b0b0b"/>
<polyline points="670.1,319.5 687.2,285.6 705.0,291.6 721.3,309.7 738.7,298.6 755.4,297.4 773.6,321.3" fill="none" stroke="#0b0b0b" stroke-width="2.0" stroke-linejoin="round" stroke-dasharray="3.7 1.1"/>
<circle cx="670.1" cy="319.5" r="2.1" fill="#0b0b0b"/>
<circle cx="687.2" cy="285.6" r="2.1" fill="#0b0b0b"/>
<circle cx="705.0" cy="291.6" r="2.1" fill="#0b0b0b"/>
<circle cx="721.3" cy="309.7" r="2.1" fill="#0b0b0b"/>
<circle cx="738.7" cy="298.6" r="2.1" fill="#0b0b0b"/>
<circle cx="755.4" cy="297.4" r="2.1" fill="#0b0b0b"/>
<circle cx="773.6" cy="321.3" r="2.1" fill="#0b0b0b"/>
<polyline points="669.6,366.3 703.5,341.3 738.0,351.3 773.0,386.3" fill="none" stroke="#0b0b0b" stroke-width="2.3" stroke-linejoin="round"/>
<circle cx="669.6" cy="366.3" r="2.1" fill="#0b0b0b"/>
<circle cx="703.5" cy="341.3" r="2.1" fill="#0b0b0b"/>
<circle cx="738.0" cy="351.3" r="2.1" fill="#0b0b0b"/>
<circle cx="773.0" cy="386.3" r="2.1" fill="#0b0b0b"/>
<polyline points="669.6,375.4 703.5,352.0 738.0,366.3 773.0,384.7" fill="none" stroke="#0b0b0b" stroke-width="2.0" stroke-linejoin="round" stroke-dasharray="3.7 1.1"/>
<circle cx="669.6" cy="375.4" r="2.1" fill="#0b0b0b"/>
<circle cx="703.5" cy="352.0" r="2.1" fill="#0b0b0b"/>
<circle cx="738.0" cy="366.3" r="2.1" fill="#0b0b0b"/>
<circle cx="773.0" cy="384.7" r="2.1" fill="#0b0b0b"/>
<polyline points="669.0,449.4 703.5,416.7 738.0,450.8 773.0,459.7" fill="none" stroke="#0b0b0b" stroke-width="2.3" stroke-linejoin="round"/>
<circle cx="669.0" cy="449.4" r="2.1" fill="#0b0b0b"/>
<circle cx="703.5" cy="416.7" r="2.1" fill="#0b0b0b"/>
<circle cx="738.0" cy="450.8" r="2.1" fill="#0b0b0b"/>
<circle cx="773.0" cy="459.7" r="2.1" fill="#0b0b0b"/>
<polyline points="669.0,453.5 703.5,426.1 738.0,442.3 773.0,466.1" fill="none" stroke="#0b0b0b" stroke-width="2.0" stroke-linejoin="round" stroke-dasharray="3.7 1.1"/>
<circle cx="669.0" cy="453.5" r="2.1" fill="#0b0b0b"/>
<circle cx="703.5" cy="426.1" r="2.1" fill="#0b0b0b"/>
<circle cx="738.0" cy="442.3" r="2.1" fill="#0b0b0b"/>
<circle cx="773.0" cy="466.1" r="2.1" fill="#0b0b0b"/>
<polyline points="669.0,561.5 703.5,533.6 736.9,548.1 772.1,565.9" fill="none" stroke="#0b0b0b" stroke-width="2.3" stroke-linejoin="round"/>
<rect x="667.6" y="560.1" width="2.7" height="2.7" fill="#fff" stroke="#0b0b0b" stroke-width="0.8"/>
<rect x="702.1" y="532.2" width="2.7" height="2.7" fill="#fff" stroke="#0b0b0b" stroke-width="0.8"/>
<rect x="735.5" y="546.8" width="2.7" height="2.7" fill="#fff" stroke="#0b0b0b" stroke-width="0.8"/>
<rect x="770.8" y="564.5" width="2.7" height="2.7" fill="#fff" stroke="#0b0b0b" stroke-width="0.8"/>
<polyline points="669.0,570.8 703.5,540.3 736.9,554.8 772.1,572.6" fill="none" stroke="#0b0b0b" stroke-width="2.0" stroke-linejoin="round" stroke-dasharray="3.7 1.1"/>
<rect x="667.6" y="569.4" width="2.7" height="2.7" fill="#fff" stroke="#0b0b0b" stroke-width="0.8"/>
<rect x="702.1" y="538.9" width="2.7" height="2.7" fill="#fff" stroke="#0b0b0b" stroke-width="0.8"/>
<rect x="735.5" y="553.4" width="2.7" height="2.7" fill="#fff" stroke="#0b0b0b" stroke-width="0.8"/>
<rect x="770.8" y="571.2" width="2.7" height="2.7" fill="#fff" stroke="#0b0b0b" stroke-width="0.8"/>
<text y="246.6" font-size="8.2" stroke-width="0.78"><tspan x="504.60" textLength="10.00" lengthAdjust="spacingAndGlyphs">72</tspan></text>
<text y="261.6" font-size="8.2" stroke-width="0.78"><tspan x="509.00" textLength="5.00" lengthAdjust="spacingAndGlyphs">4</tspan></text>
<text y="378.8" font-size="8.2" stroke-width="0.78"><tspan x="509.60" textLength="4.80" lengthAdjust="spacingAndGlyphs">2</tspan></text>
<text y="386.8" font-size="8.2" stroke-width="0.78"><tspan x="511.00" textLength="2.60" lengthAdjust="spacingAndGlyphs">1</tspan></text>
<text y="459.5" font-size="8.2" stroke-width="0.78"><tspan x="509.00" textLength="5.00" lengthAdjust="spacingAndGlyphs">9</tspan></text>
<text y="477.5" font-size="8.2" stroke-width="0.78"><tspan x="509.00" textLength="5.00" lengthAdjust="spacingAndGlyphs">8</tspan></text>
<text y="581.3" font-size="8.2" stroke-width="0.78"><tspan x="505.20" textLength="3.46" lengthAdjust="spacingAndGlyphs">1</tspan><tspan x="508.66" textLength="5.24" lengthAdjust="spacingAndGlyphs">8</tspan></text>
<text y="599.8" font-size="8.2" stroke-width="0.78"><tspan x="509.00" textLength="5.00" lengthAdjust="spacingAndGlyphs">4</tspan></text>
<text y="183.5" font-size="8.2" stroke-width="0.78"><tspan x="655.10" textLength="11.20" lengthAdjust="spacingAndGlyphs">22</tspan></text>
<text y="192.4" font-size="8.2" stroke-width="0.78"><tspan x="655.10" textLength="11.20" lengthAdjust="spacingAndGlyphs">39</tspan></text>
<text y="300.8" font-size="8.2" stroke-width="0.78"><tspan x="655.10" textLength="5.14" lengthAdjust="spacingAndGlyphs">3</tspan><tspan x="660.24" textLength="6.06" lengthAdjust="spacingAndGlyphs">0</tspan></text>
<text y="322.8" font-size="8.2" stroke-width="0.78"><tspan x="660.50" textLength="5.10" lengthAdjust="spacingAndGlyphs">8</tspan></text>
<text y="369.2" font-size="8.2" stroke-width="0.78"><tspan x="655.10" textLength="11.20" lengthAdjust="spacingAndGlyphs">29</tspan></text>
<text y="379.2" font-size="8.2" stroke-width="0.78"><tspan x="656.70" textLength="3.82" lengthAdjust="spacingAndGlyphs">1</tspan><tspan x="660.52" textLength="5.78" lengthAdjust="spacingAndGlyphs">2</tspan></text>
<text y="450.8" font-size="8.2" stroke-width="0.78"><tspan x="656.70" textLength="3.82" lengthAdjust="spacingAndGlyphs">1</tspan><tspan x="660.52" textLength="5.78" lengthAdjust="spacingAndGlyphs">2</tspan></text>
<text y="459.7" font-size="8.2" stroke-width="0.78"><tspan x="656.70" textLength="3.44" lengthAdjust="spacingAndGlyphs">1</tspan><tspan x="660.14" textLength="6.16" lengthAdjust="spacingAndGlyphs">0</tspan></text>
<text y="564.4" font-size="8.2" stroke-width="0.78"><tspan x="655.60" textLength="3.82" lengthAdjust="spacingAndGlyphs">1</tspan><tspan x="659.42" textLength="5.78" lengthAdjust="spacingAndGlyphs">8</tspan></text>
<text y="574.8" font-size="8.2" stroke-width="0.78"><tspan x="660.00" textLength="5.00" lengthAdjust="spacingAndGlyphs">8</tspan></text>
</svg>
</body></html>
